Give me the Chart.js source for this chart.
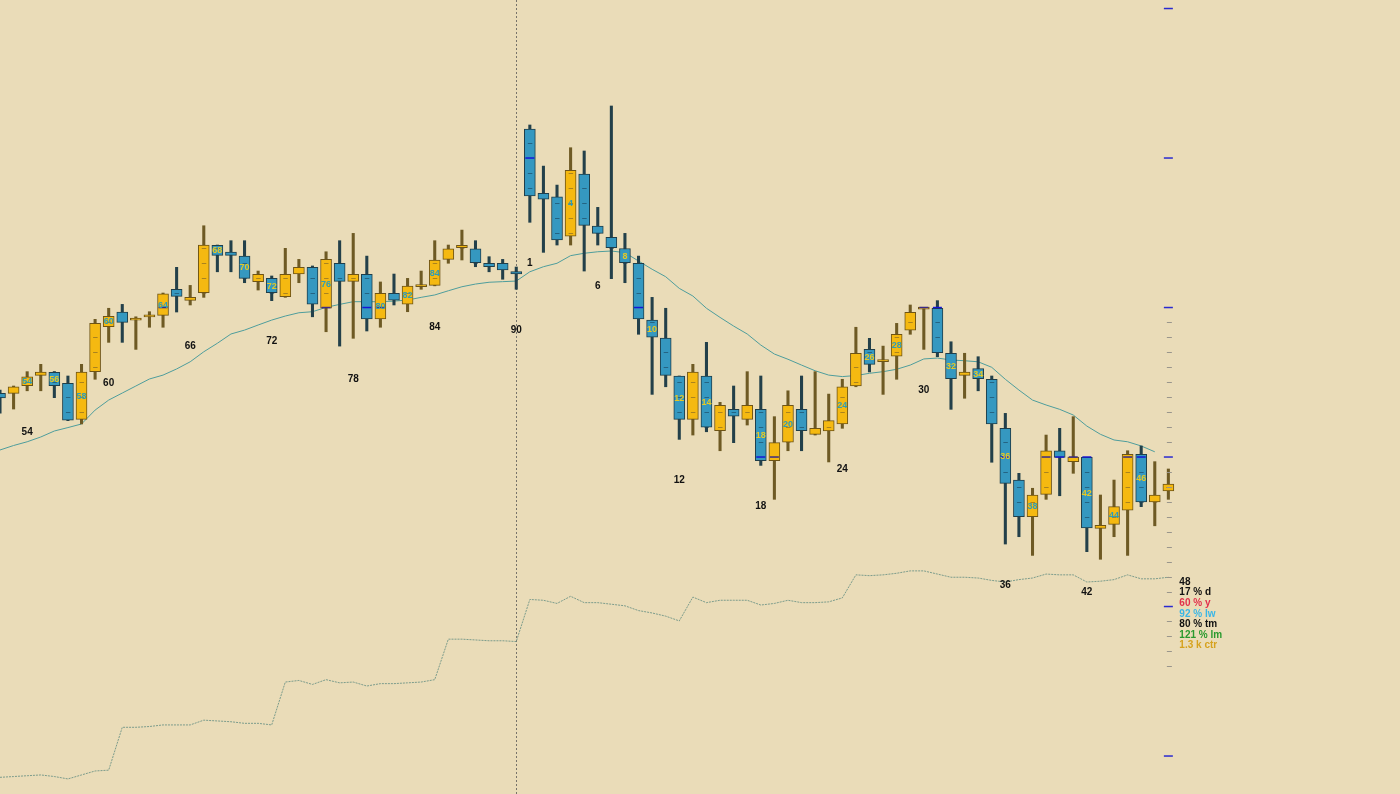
<!DOCTYPE html>
<html>
<head>
<meta charset="utf-8">
<title>Candles</title>
<script src="https://cdn.jsdelivr.net/npm/chart.js"></script>
<style>
  html, body { margin: 0; padding: 0; background: #eadcb8; }
  #wrap { width: 1400px; height: 794px; position: relative; }
</style>
</head>
<body>
<div id="wrap"><canvas id="candles"></canvas></div>
<script>
// bar numbers (session restarts at 1 after bar 90)
const barNumbers = [
  52, 53, 54, 55, 56, 57, 58, 59, 60, 61, 62, 63, 64, 65, 66, 67, 68, 69, 70, 71,
  72, 73, 74, 75, 76, 77, 78, 79, 80, 81, 82, 83, 84, 85, 86, 87, 88, 89, 90,
  1, 2, 3, 4, 5, 6, 7, 8, 9, 10, 11, 12, 13, 14, 15, 16, 17, 18, 19, 20, 21, 22, 23, 24,
  25, 26, 27, 28, 29, 30, 31, 32, 33, 34, 35, 36, 37, 38, 39, 40, 41, 42, 43, 44, 45, 46, 47, 48
];

const opens = [
  24.26, 24.26, 24.77, 25.46, 25.67, 24.93, 22.52, 25.71, 28.72, 29.70, 29.20, 29.42, 29.48, 31.22, 30.48, 30.99,
  34.16, 33.71, 33.44, 31.73, 31.95, 30.72, 32.24, 32.69, 29.95, 32.96, 31.75, 32.22, 29.23, 30.95, 30.23, 31.45,
  31.48, 33.22, 34.00, 33.93, 32.96, 32.96, 32.41,
  41.94, 37.64, 37.41, 34.78, 38.93, 35.45, 34.70, 33.95, 32.96, 29.16, 27.96, 25.42, 22.52, 25.42, 21.76, 23.19,
  22.52, 23.19, 19.75, 21.00, 23.19, 21.52, 21.75, 22.21, 24.75, 27.20, 26.43, 26.74, 28.49, 29.95, 29.95, 26.94,
  25.46, 25.91, 25.20, 21.92, 18.46, 16.01, 17.50, 20.42, 19.69, 19.98, 15.23, 15.50, 16.45, 20.18, 16.99, 17.74
];
const highs = [
  24.48, 24.75, 25.71, 26.20, 25.72, 25.42, 26.20, 29.21, 29.95, 30.21, 29.38, 29.72, 30.97, 32.69, 31.48, 35.47,
  34.18, 34.47, 34.47, 32.44, 32.11, 33.96, 33.22, 32.78, 33.73, 34.47, 34.96, 33.44, 31.71, 32.24, 31.95, 32.44,
  34.47, 34.18, 35.18, 34.47, 33.40, 33.22, 32.71,
  42.21, 39.46, 38.19, 40.69, 40.47, 36.70, 43.48, 34.96, 33.44, 30.68, 29.95, 25.42, 26.20, 27.67, 23.66, 24.75,
  25.71, 25.42, 22.70, 24.43, 25.42, 25.71, 24.21, 25.20, 28.68, 27.94, 27.42, 28.94, 30.17, 29.97, 30.46, 27.71,
  26.94, 26.71, 25.42, 22.92, 18.91, 17.91, 21.47, 21.92, 22.70, 19.98, 17.46, 18.46, 20.42, 20.74, 19.69, 19.20
];
const lows = [
  22.94, 23.21, 24.43, 24.43, 23.97, 22.43, 22.21, 25.20, 27.67, 27.67, 27.20, 28.68, 28.68, 29.70, 30.17, 30.68,
  32.39, 32.39, 31.66, 31.17, 30.46, 30.68, 31.66, 29.38, 28.38, 27.42, 27.94, 28.43, 28.68, 30.17, 29.72, 31.22,
  31.45, 32.96, 33.18, 32.73, 32.39, 31.89, 31.22,
  35.70, 33.69, 34.18, 34.18, 32.44, 34.18, 31.93, 31.66, 28.21, 24.19, 24.70, 21.18, 21.47, 21.69, 20.42, 20.96,
  22.14, 19.44, 17.17, 20.42, 20.42, 21.47, 19.67, 21.92, 24.70, 25.69, 24.19, 25.20, 28.21, 27.20, 26.71, 23.19,
  23.93, 24.43, 19.65, 14.18, 14.67, 13.42, 17.17, 17.41, 18.91, 13.67, 13.16, 14.67, 13.42, 16.68, 15.40, 17.17
];
const closes = [
  23.95, 24.70, 25.37, 25.69, 24.77, 22.47, 25.69, 28.94, 29.41, 29.01, 29.24, 29.45, 30.92, 30.75, 30.68, 34.18,
  33.49, 33.49, 31.95, 32.22, 30.99, 32.22, 32.69, 30.23, 33.22, 31.75, 32.22, 29.23, 30.95, 30.50, 31.44, 31.47,
  33.18, 33.93, 34.16, 33.00, 32.73, 32.51, 32.24,
  37.46, 37.24, 34.52, 39.18, 35.50, 34.96, 34.00, 33.00, 29.23, 28.01, 25.46, 22.52, 25.69, 21.99, 23.46, 22.74,
  23.46, 19.75, 20.96, 23.46, 21.76, 21.92, 22.44, 24.70, 26.94, 26.20, 26.45, 28.21, 29.68, 29.97, 26.98, 25.24,
  25.69, 25.24, 22.21, 18.24, 16.01, 17.46, 20.42, 19.98, 20.00, 15.25, 15.43, 16.68, 20.18, 16.99, 17.46, 18.19
];

// moving average of price (ends one bar early)
const movingAvg = [
  20.47, 20.77, 21.02, 21.34, 21.74, 21.97, 22.21, 23.14, 23.81, 24.28, 24.75, 25.22, 25.48, 25.89, 26.37, 27.04,
  27.61, 28.23, 28.49, 28.83, 29.16, 29.43, 29.65, 29.72, 30.01, 30.21, 30.39, 30.39, 30.39, 30.43, 30.50, 30.68,
  30.84, 31.12, 31.39, 31.57, 31.69, 31.73, 31.77,
  32.39, 32.73, 32.96, 33.47, 33.63, 33.73, 33.78, 33.67, 33.11, 32.56, 32.06, 31.28, 30.77, 29.95, 29.34, 28.76,
  28.23, 27.49, 26.89, 26.54, 26.15, 25.77, 25.48, 25.38, 25.45, 25.60, 25.71, 25.87, 26.15, 26.56, 26.62, 26.49,
  26.44, 26.37, 26.00, 25.20, 24.48, 23.81, 23.48, 23.19, 22.81, 22.07, 21.52, 21.14, 21.02, 20.74, 20.35, null
];

// lower cumulative line (own scale, 0-100)
const cumLine = [
  2.1, 2.2, 2.3, 2.4, 2.2, 1.9, 2.4, 2.9, 3.0, 8.4, 8.4, 8.5, 8.7, 8.7, 8.7, 9.3,
  9.2, 9.1, 8.9, 8.9, 8.7, 14.1, 14.3, 13.8, 14.4, 14.0, 14.1, 13.6, 13.9, 13.9, 14.0, 14.1,
  14.4, 19.5, 19.5, 19.4, 19.3, 19.3, 19.2,
  24.5, 24.4, 24.0, 24.9, 24.1, 24.1, 23.9, 23.7, 23.1, 22.8, 22.4, 21.8, 24.8, 24.1, 24.4, 24.4,
  24.4, 23.8, 24.0, 24.4, 24.1, 24.1, 24.2, 24.7, 27.6, 27.5, 27.6, 27.8, 28.1, 28.1, 27.7, 27.3,
  27.3, 27.2, 26.9, 26.7, 27.0, 27.2, 27.7, 27.6, 27.6, 26.7, 26.8, 27.0, 27.6, 27.1, 27.1, 27.3
];

const majorLevels = [0, 10, 20, 30, 40, 50];
const scaleMinorFrom = 6, scaleMinorTo = 29;

const statLines = ['17 % d', '60 % y', '92 % lw', '80 % tm', '121 % lm', '1.3 k ctr'];
const statColors = ['#111111', '#e2304c', '#3ab6e6', '#111111', '#2a9a2e', '#d6a21e'];

const BLUE = '#3598c0', BLUE_EDGE = '#1f3e4a';
const GOLD = '#f5b911', GOLD_EDGE = '#6e5416';
const FONT = '"Liberation Sans", Arial, sans-serif';

const isUp = i => closes[i] >= opens[i];
const minBody = 0.14;
const bodyData = barNumbers.map((n, i) => {
  let lo = Math.min(opens[i], closes[i]), hi = Math.max(opens[i], closes[i]);
  if (hi - lo < minBody) { const m = (hi + lo) / 2; lo = m - minBody / 2; hi = m + minBody / 2; }
  return { x: i, y: [lo, hi] };
});
const wickData = barNumbers.map((n, i) => ({ x: i, y: [lows[i], highs[i]] }));

const candleMarks = {
  id: 'candleMarks',
  beforeDatasetsDraw(chart) {
    const { ctx, chartArea, scales: { x } } = chart;
    // dashed line on the last bar of the previous session
    const brk = barNumbers.findIndex((n, i) => i > 0 && n < barNumbers[i - 1]) - 1;
    const px = Math.round(x.getPixelForValue(brk)) + 0.5;
    ctx.save();
    ctx.strokeStyle = 'rgba(80,80,80,0.75)';
    ctx.lineWidth = 1;
    ctx.setLineDash([2, 2]);
    ctx.beginPath();
    ctx.moveTo(px, chartArea.top);
    ctx.lineTo(px, chartArea.bottom);
    ctx.stroke();
    ctx.restore();
  },
  afterDatasetsDraw(chart) {
    const { ctx, scales: { x, y } } = chart;
    const last = barNumbers.length - 1;
    ctx.save();
    ctx.textAlign = 'center';
    ctx.textBaseline = 'middle';
    barNumbers.forEach((num, i) => {
      const px = x.getPixelForValue(i);
      const up = isUp(i);
      const lo = Math.min(opens[i], closes[i]);
      const hi = Math.max(opens[i], closes[i]);
      // minor levels inside the body
      ctx.lineWidth = 1;
      ctx.strokeStyle = up ? 'rgba(120,95,40,0.6)' : 'rgba(25,65,90,0.6)';
      for (let lv = Math.ceil(lo); lv <= Math.floor(hi); lv++) {
        if (lv % 10 === 0) continue;
        const py = Math.round(y.getPixelForValue(lv)) + 0.5;
        ctx.beginPath();
        ctx.moveTo(px - 2, py);
        ctx.lineTo(px + 2.5, py);
        ctx.stroke();
      }
      // major levels crossing the body
      majorLevels.forEach(lv => {
        if (lv < lo - 0.1 || lv > hi + 0.1) return;
        const py = y.getPixelForValue(lv);
        ctx.strokeStyle = up ? '#3b2a86' : '#1515d6';
        ctx.lineWidth = 1.5;
        ctx.beginPath();
        ctx.moveTo(px - 4.5, py);
        ctx.lineTo(px + 4.5, py);
        ctx.stroke();
      });
      // bar number inside tall enough bodies
      const top = y.getPixelForValue(hi), bot = y.getPixelForValue(lo);
      if (num % 2 === 0 && bot - top >= 8.5) {
        ctx.font = 'bold 9px ' + FONT;
        ctx.fillStyle = up ? '#2f9cb6' : '#e6c824';
        ctx.fillText(String(num), px, (top + bot) / 2 + 0.5);
      }
      // bar number under the low
      if ((num % 6 === 0 || num === 1) && i < last) {
        ctx.font = 'bold 10px ' + FONT;
        ctx.fillStyle = '#111111';
        ctx.fillText(String(num), px, y.getPixelForValue(lows[i]) + 41);
      }
    });

    // price scale column on the last bar
    const sx = x.getPixelForValue(last);
    ctx.lineWidth = 1;
    ctx.strokeStyle = '#9a968c';
    for (let lv = scaleMinorFrom; lv <= scaleMinorTo; lv++) {
      if (lv % 10 === 0) continue;
      const py = Math.round(y.getPixelForValue(lv)) + 0.5;
      ctx.beginPath();
      ctx.moveTo(sx - 1.5, py);
      ctx.lineTo(sx + 3.5, py);
      ctx.stroke();
    }
    ctx.strokeStyle = '#2a2ad0';
    ctx.lineWidth = 1.5;
    majorLevels.forEach(lv => {
      const py = y.getPixelForValue(lv);
      ctx.beginPath();
      ctx.moveTo(sx - 4.5, py);
      ctx.lineTo(sx + 4.5, py);
      ctx.stroke();
    });

    // stats block
    ctx.textAlign = 'left';
    ctx.font = 'bold 10px ' + FONT;
    const tx = sx + 11, ty = 582, step = 10.6;
    ctx.fillStyle = '#111111';
    ctx.fillText(String(barNumbers[last]), tx, ty);
    statLines.forEach((t, k) => {
      ctx.fillStyle = statColors[k];
      ctx.fillText(t, tx, ty + step * (k + 1));
    });
    ctx.restore();
  }
};

new Chart(document.getElementById('candles'), {
  type: 'bar',
  data: {
    datasets: [
      {
        label: 'body',
        data: bodyData,
        backgroundColor: c => isUp(c.dataIndex) ? GOLD : BLUE,
        borderColor: c => isUp(c.dataIndex) ? GOLD_EDGE : BLUE_EDGE,
        borderWidth: 1,
        borderSkipped: false,
        barThickness: 11,
        grouped: false,
        order: 1
      },
      {
        label: 'wick',
        data: wickData,
        backgroundColor: c => isUp(c.dataIndex) ? '#6e5a24' : '#23404a',
        borderWidth: 0,
        barThickness: 2.4,
        grouped: false,
        order: 2
      },
      {
        type: 'line',
        label: 'avg',
        data: movingAvg.map((v, i) => ({ x: i, y: v })),
        borderColor: '#4e9d9c',
        borderWidth: 1,
        pointRadius: 0,
        tension: 0,
        spanGaps: false,
        order: 3
      },
      {
        type: 'line',
        label: 'cum',
        yAxisID: 'y2',
        data: cumLine.map((v, i) => ({ x: i, y: v })),
        borderColor: 'rgba(105,145,132,0.85)',
        borderWidth: 1,
        borderDash: [2, 1],
        pointRadius: 0,
        tension: 0,
        order: 3
      }
    ]
  },
  options: {
    responsive: true,
    maintainAspectRatio: false,
    animation: false,
    events: [],
    layout: { padding: 0 },
    plugins: { legend: { display: false }, tooltip: { enabled: false } },
    scales: {
      x: { type: 'linear', display: false, offset: false, min: 0, max: 103.05 },
      y: { type: 'linear', display: false, min: -2.54, max: 50.57 },
      y2: { type: 'linear', display: false, min: 0, max: 100 }
    }
  },
  plugins: [candleMarks]
});
</script>
</body>
</html>
